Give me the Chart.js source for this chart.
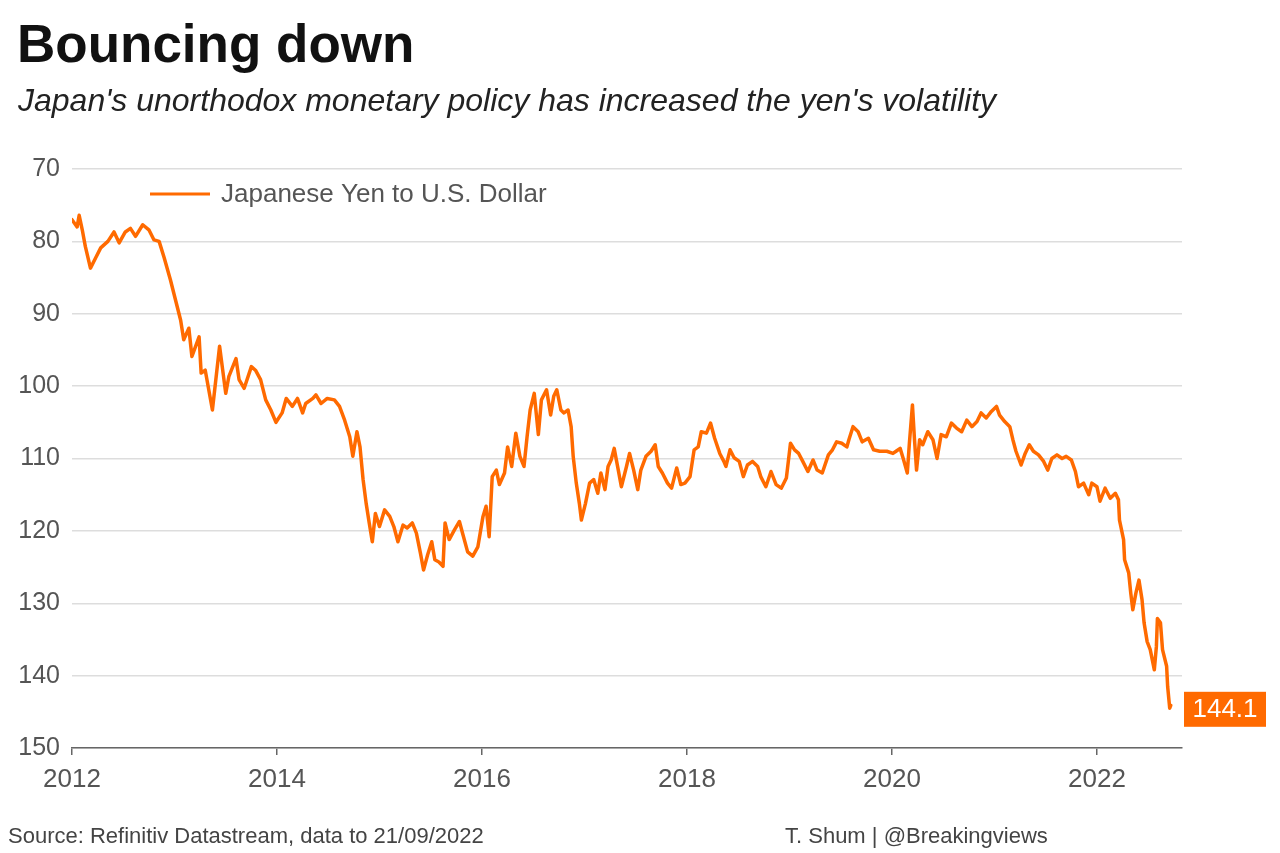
<!DOCTYPE html>
<html>
<head>
<meta charset="utf-8">
<script src="https://cdn.jsdelivr.net/npm/chart.js@4.4.1/dist/chart.umd.min.js"></script>
<style>
  html, body { margin: 0; padding: 0; background: #ffffff; }
  body { width: 1280px; height: 853px; position: relative; overflow: hidden; font-family: "Liberation Sans", Arial, sans-serif; }
  #wrap { position: absolute; left: 0; top: 0; width: 1280px; height: 853px; }
  .txt { position: absolute; white-space: nowrap; line-height: 1; }
  #title { left: 17px; top: 17px; font-size: 53px; font-weight: bold; color: #111; }
  #subtitle { left: 18px; top: 84px; font-size: 32px; font-style: italic; color: #222; }
  #source { left: 8px; top: 825px; font-size: 22px; color: #444; }
  #credit { left: 785px; top: 825px; font-size: 22px; color: #444; }
</style>
</head>
<body>
<div id="wrap"><canvas id="chart" width="1280" height="853"></canvas></div>
<div class="txt" id="title">Bouncing down</div>
<div class="txt" id="subtitle">Japan's unorthodox monetary policy has increased the yen's volatility</div>
<div class="txt" id="source">Source: Refinitiv Datastream, data to 21/09/2022</div>
<div class="txt" id="credit">T. Shum | @Breakingviews</div>
<script>
// ---- Data ----
const seriesLabel = "Japanese Yen to U.S. Dollar";
const dates = [
  2012.00, 2012.05, 2012.07, 2012.10, 2012.13, 2012.18, 2012.23, 2012.28, 2012.35, 2012.41,
  2012.46, 2012.52, 2012.57, 2012.62, 2012.69, 2012.75, 2012.80, 2012.85, 2012.90, 2012.96,
  2013.01, 2013.06, 2013.09, 2013.14, 2013.17, 2013.24, 2013.26, 2013.30, 2013.37, 2013.44,
  2013.50, 2013.53, 2013.60, 2013.63, 2013.68, 2013.75, 2013.79, 2013.84, 2013.89, 2013.94,
  2013.99, 2014.05, 2014.09, 2014.15, 2014.20, 2014.25, 2014.28, 2014.35, 2014.38, 2014.43,
  2014.49, 2014.56, 2014.61, 2014.66, 2014.71, 2014.74, 2014.78, 2014.81, 2014.84, 2014.87,
  2014.90, 2014.93, 2014.96, 2015.00, 2015.05, 2015.10, 2015.14, 2015.18, 2015.23, 2015.27,
  2015.32, 2015.36, 2015.40, 2015.43, 2015.47, 2015.51, 2015.54, 2015.58, 2015.62, 2015.64,
  2015.68, 2015.73, 2015.78, 2015.81, 2015.86, 2015.91, 2015.96, 2016.01, 2016.04, 2016.07,
  2016.10, 2016.14, 2016.17, 2016.22, 2016.25, 2016.29, 2016.33, 2016.37, 2016.41, 2016.44,
  2016.47, 2016.51, 2016.55, 2016.58, 2016.63, 2016.67, 2016.70, 2016.73, 2016.77, 2016.80,
  2016.84, 2016.87, 2016.89, 2016.92, 2016.95, 2016.97, 2017.01, 2017.05, 2017.09, 2017.13,
  2017.16, 2017.20, 2017.23, 2017.26, 2017.29, 2017.33, 2017.36, 2017.41, 2017.44, 2017.48,
  2017.52, 2017.55, 2017.60, 2017.65, 2017.69, 2017.72, 2017.76, 2017.81, 2017.85, 2017.90,
  2017.94, 2017.98, 2018.03, 2018.07, 2018.11, 2018.14, 2018.19, 2018.23, 2018.27, 2018.32,
  2018.36, 2018.38, 2018.42, 2018.46, 2018.51, 2018.55, 2018.59, 2018.64, 2018.69, 2018.72,
  2018.77, 2018.82, 2018.87, 2018.92, 2018.97, 2019.01, 2019.05, 2019.09, 2019.13, 2019.18,
  2019.23, 2019.27, 2019.32, 2019.38, 2019.42, 2019.46, 2019.51, 2019.56, 2019.58, 2019.62,
  2019.67, 2019.71, 2019.77, 2019.82, 2019.88, 2019.95, 2020.01, 2020.04, 2020.08, 2020.11,
  2020.15, 2020.17, 2020.20, 2020.22, 2020.24, 2020.27, 2020.30, 2020.35, 2020.40, 2020.44,
  2020.48, 2020.53, 2020.58, 2020.63, 2020.68, 2020.73, 2020.78, 2020.83, 2020.87, 2020.92,
  2020.97, 2021.02, 2021.05, 2021.10, 2021.15, 2021.18, 2021.21, 2021.26, 2021.30, 2021.34,
  2021.38, 2021.43, 2021.48, 2021.52, 2021.56, 2021.61, 2021.66, 2021.70, 2021.75, 2021.79,
  2021.82, 2021.87, 2021.92, 2021.95, 2022.00, 2022.03, 2022.08, 2022.13, 2022.18, 2022.21,
  2022.22, 2022.26, 2022.27, 2022.31, 2022.33, 2022.35, 2022.38, 2022.41, 2022.44, 2022.46,
  2022.49, 2022.52, 2022.56, 2022.58, 2022.59, 2022.62, 2022.64, 2022.68, 2022.69, 2022.71,
  2022.72
];
const yenPerDollar = [
  77.0, 78.0, 76.4, 78.4, 80.7, 83.7, 82.3, 80.9, 80.0, 78.7,
  80.2, 78.7, 78.2, 79.3, 77.7, 78.4, 79.8, 80.0, 82.3, 85.3,
  88.1, 90.9, 93.6, 92.0, 95.9, 93.2, 98.2, 97.8, 103.3, 94.5,
  101.0, 98.7, 96.2, 99.1, 100.3, 97.3, 97.8, 99.1, 101.9, 103.3,
  105.0, 103.7, 101.7, 102.8, 101.7, 103.7, 102.4, 101.7, 101.2, 102.4,
  101.7, 101.9, 102.8, 104.7, 107.0, 109.7, 106.3, 108.4, 112.9, 116.2,
  118.9, 121.5, 117.6, 119.4, 117.1, 118.0, 119.4, 121.5, 119.2, 119.6,
  118.9, 120.3, 123.1, 125.4, 123.3, 121.5, 124.0, 124.3, 124.9, 118.9,
  121.2, 119.9, 118.7, 120.3, 122.9, 123.5, 122.2, 118.0, 116.6, 120.8,
  112.5, 111.6, 113.6, 112.0, 108.4, 111.1, 106.5, 109.7, 111.1, 107.0,
  103.3, 101.0, 106.7, 101.9, 100.5, 104.0, 101.4, 100.5, 103.3, 103.7,
  103.3, 105.6, 109.7, 113.4, 116.2, 118.5, 116.2, 113.4, 112.9, 114.8,
  112.0, 114.3, 111.1, 110.2, 108.6, 111.6, 113.9, 111.1, 109.3, 111.6,
  114.3, 111.6, 109.7, 109.0, 108.1, 111.1, 112.0, 113.4, 114.1, 111.3,
  113.6, 113.4, 112.5, 108.8, 108.4, 106.3, 106.5, 105.1, 107.2, 109.3,
  110.4, 111.1, 108.8, 109.9, 110.4, 112.5, 110.9, 110.4, 111.1, 112.5,
  113.9, 111.8, 113.6, 114.1, 112.7, 107.9, 108.8, 109.3, 110.4, 111.8,
  110.2, 111.6, 112.0, 109.5, 108.8, 107.7, 107.9, 108.4, 107.4, 105.6,
  106.3, 107.7, 107.2, 108.8, 109.0, 109.0, 109.3, 109.0, 108.6, 110.0,
  112.0, 107.9, 102.6, 107.4, 111.6, 107.4, 108.1, 106.3, 107.4, 110.0,
  106.7, 107.0, 105.1, 105.8, 106.3, 104.7, 105.6, 104.9, 103.7, 104.4,
  103.5, 102.8, 104.0, 104.9, 105.6, 107.4, 109.0, 110.9, 109.3, 108.1,
  109.0, 109.5, 110.4, 111.6, 110.0, 109.5, 110.0, 109.7, 110.2, 111.8,
  113.9, 113.4, 115.0, 113.4, 113.9, 115.9, 114.1, 115.5, 114.8, 115.7,
  118.5, 121.2, 124.0, 125.8, 128.6, 130.9, 128.6, 126.8, 129.5, 132.7,
  135.3, 136.4, 139.2, 136.0, 132.1, 132.7, 136.4, 138.7, 141.5, 144.5,
  144.1
];
const xTickYears = [2012, 2014, 2016, 2018, 2020, 2022];
const yTickValues = [70, 80, 90, 100, 110, 120, 130, 140, 150];
const lastValueLabel = "144.1";

// ---- Styling ----
const ORANGE = "#ff6a00";
const FONT = '"Liberation Sans", Arial, sans-serif';

const points = dates.map((d, i) => ({ x: d, y: yenPerDollar[i] }));

const legendPlugin = {
  id: "insideLegend",
  afterDraw(chart) {
    const ctx = chart.ctx;
    const ds = chart.data.datasets[0];
    const a = chart.chartArea;
    const y = a.top + 25;
    ctx.save();
    ctx.strokeStyle = ds.borderColor;
    ctx.lineWidth = 3;
    ctx.beginPath();
    ctx.moveTo(a.left + 78, y);
    ctx.lineTo(a.left + 138, y);
    ctx.stroke();
    ctx.fillStyle = "#555";
    ctx.font = "26px " + FONT;
    ctx.textBaseline = "middle";
    ctx.textAlign = "left";
    ctx.fillText(ds.label, a.left + 149, y + 1);
    ctx.restore();
  }
};

const endLabelPlugin = {
  id: "endLabel",
  afterDraw(chart) {
    const ctx = chart.ctx;
    const yScale = chart.scales.y;
    const a = chart.chartArea;
    const last = yenPerDollar[yenPerDollar.length - 1];
    const cy = yScale.getPixelForValue(last) + 4;
    const x0 = a.right + 2, w = 82, h = 35;
    ctx.save();
    ctx.fillStyle = ORANGE;
    ctx.fillRect(x0, cy - h / 2, w, h);
    ctx.fillStyle = "#ffffff";
    ctx.font = "26px " + FONT;
    ctx.textAlign = "center";
    ctx.textBaseline = "middle";
    ctx.fillText(lastValueLabel, x0 + w / 2, cy + 1);
    ctx.restore();
  }
};

new Chart(document.getElementById("chart"), {
  type: "line",
  data: {
    datasets: [{
      label: seriesLabel,
      data: points,
      borderColor: ORANGE,
      backgroundColor: ORANGE,
      borderWidth: 3.5,
      borderJoinStyle: "round",
      borderCapStyle: "round",
      pointRadius: 0,
      tension: 0,
      fill: false
    }]
  },
  options: {
    responsive: false,
    animation: false,
    devicePixelRatio: 1,
    layout: { padding: { left: 0, top: 169, right: 98, bottom: 60 } },
    plugins: {
      legend: { display: false },
      tooltip: { enabled: false },
      title: { display: false }
    },
    scales: {
      x: {
        type: "linear",
        min: 2012,
        max: 2022.83,
        afterBuildTicks(scale) { scale.ticks = xTickYears.map(v => ({ value: v })); },
        afterFit(scale) { scale.height = 45; },
        ticks: {
          color: "#555",
          font: { family: FONT, size: 26 },
          padding: 9,
          maxRotation: 0,
          autoSkip: false,
          callback: v => String(v)
        },
        grid: {
          display: true,
          drawOnChartArea: false,
          drawTicks: true,
          tickLength: 7,
          color: "#666",
          lineWidth: 1.5
        },
        border: { display: true, color: "#666", width: 1.5 }
      },
      y: {
        reverse: true,
        min: 70,
        max: 150,
        afterBuildTicks(scale) { scale.ticks = yTickValues.map(v => ({ value: v })); },
        afterFit(scale) { scale.width = 72; },
        ticks: {
          color: "#555",
          font: { family: FONT, size: 25 },
          padding: 12
        },
        grid: {
          color: "#dddddd",
          lineWidth: 1.5,
          drawTicks: false
        },
        border: { display: false }
      }
    }
  },
  plugins: [legendPlugin, endLabelPlugin]
});
</script>
</body>
</html>
